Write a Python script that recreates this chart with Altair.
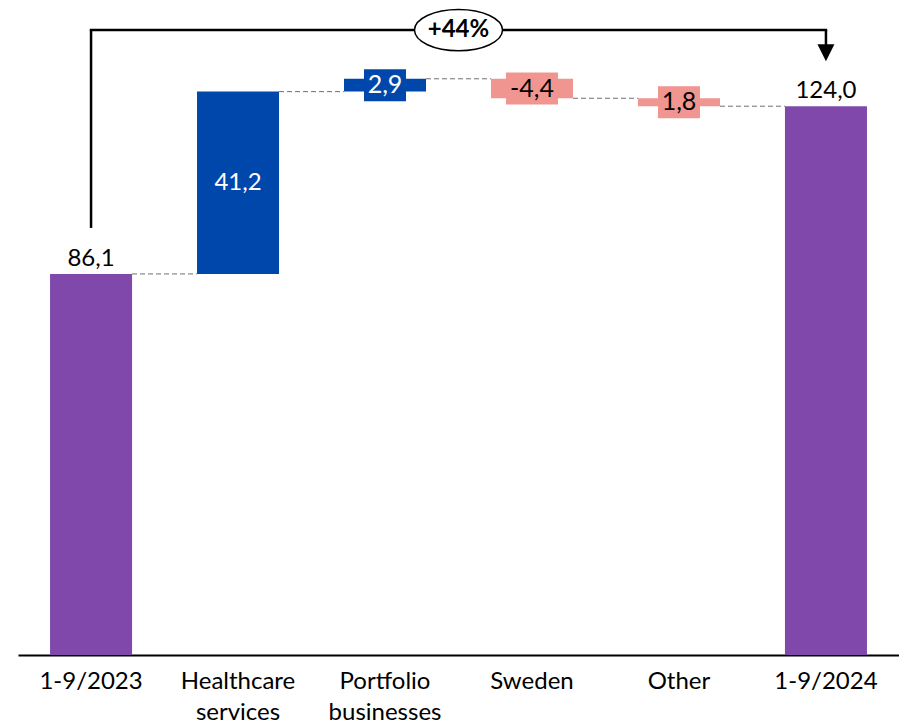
import altair as alt
import pandas as pd

# ---- data -------------------------------------------------------------
categories = ["1-9/2023", "Healthcare services", "Portfolio businesses",
              "Sweden", "Other", "1-9/2024"]
values = [86.1, 41.2, 2.9, -4.4, -1.8, 124.0]
kinds = ["total", "step", "step", "step", "step", "total"]
value_labels = ["86,1", "41,2", "2,9", "-4,4", "1,8", "124,0"]
label_styles = ["above", "inside", "box", "box", "box", "above"]

# ---- styling ----------------------------------------------------------
PURPLE = "#8048AA"
BLUE = "#0047AB"
PINK = "#F19591"
FONT = "Lato"

PLOT_W, PLOT_H = 881, 655
Y_MAX = 148.0

# bracket annotation levels (in value units)
BRACKET_Y = 141.2
BRACKET_LEFT_END = 96.5
ARROW_Y = 136.1

# ---- waterfall geometry -------------------------------------------------
rows = []
running = 0.0
for cat, v, k, lab, st in zip(categories, values, kinds, value_labels, label_styles):
    if k == "total":
        lo, hi = 0.0, v
        running = v
        color = PURPLE
    else:
        lo, hi = running, running + v
        running += v
        color = BLUE if v > 0 else PINK
    text_color = "white" if color == BLUE else "black"
    rows.append(dict(cat=cat, start=lo, end=hi, mid=(lo + hi) / 2,
                     top=max(lo, hi), color=color, label=lab, style=st,
                     text_color=text_color))
df = pd.DataFrame(rows)

conn = pd.DataFrame({
    "cat": categories[:-1],
    "next": categories[1:],
    "level": [r["end"] for r in rows[:-1]],
})

pct = values[-1] / values[0] - 1
pct_text = f"{pct:+.0%}"

bracket = pd.DataFrame({
    "from_cat": [categories[0]],
    "to_cat": [categories[-1]],
    "y_top": [BRACKET_Y],
    "y_left": [BRACKET_LEFT_END],
    "y_arrow": [ARROW_Y],
    "txt": [pct_text],
})

x_scale = alt.Scale(domain=categories, paddingInner=0.442, paddingOuter=0.218)
y_scale = alt.Scale(domain=[0, Y_MAX], nice=False, zero=False)

x_axis = alt.Axis(
    title=None, labelAngle=0, ticks=False, labelFont=FONT, labelFontSize=24,
    labelColor="black", domainColor="black", domainWidth=2, labelPadding=14,
    labelLineHeight=31, labelExpr="split(datum.label, ' ')", grid=False,
)


def xcat(field, **kw):
    return alt.X(f"{field}:N", sort=categories, scale=x_scale, axis=x_axis, **kw)


def yval(field):
    return alt.Y(f"{field}:Q", scale=y_scale, axis=None)


base = alt.Chart(df)

bars = base.mark_bar().encode(
    x=xcat("cat"),
    y=yval("start"),
    y2="end:Q",
    color=alt.Color("color:N", scale=None),
)

connectors = alt.Chart(conn).mark_rule(
    color="#6f6f6f", strokeDash=[5, 3], strokeWidth=1
).encode(
    x=xcat("cat", bandPosition=1),
    x2=alt.X2("next:N", bandPosition=0),
    y=yval("level"),
)

above_labels = base.transform_filter("datum.style == 'above'").mark_text(
    font=FONT, fontSize=24, baseline="alphabetic", dy=-8, color="black"
).encode(x=xcat("cat"), y=yval("top"), text="label:N")

inside_labels = base.transform_filter("datum.style == 'inside'").mark_text(
    font=FONT, fontSize=24, baseline="middle", color="white"
).encode(x=xcat("cat"), y=yval("mid"), text="label:N")

# small steps get a label plate in the bar colour
box_layers = []
for r in rows:
    if r["style"] != "box":
        continue
    w = 12 + 10 * len(r["label"])
    sub = pd.DataFrame([r])
    box_layers.append(
        alt.Chart(sub).mark_bar(width=w, yOffset=-16, y2Offset=16).encode(
            x=xcat("cat"),
            y=yval("mid"),
            y2="mid:Q",
            color=alt.Color("color:N", scale=None),
        )
    )

box_labels = base.transform_filter("datum.style == 'box'").mark_text(
    font=FONT, fontSize=25, baseline="middle"
).encode(
    x=xcat("cat"),
    y=yval("mid"),
    text="label:N",
    color=alt.Color("text_color:N", scale=None),
)

# ---- growth bracket -----------------------------------------------------
bchart = alt.Chart(bracket)
line_style = dict(color="black", strokeWidth=2.5)

left_leg = bchart.mark_rule(**line_style).encode(
    x=xcat("from_cat"), y=yval("y_left"), y2="y_top:Q",
)
top_bar = bchart.mark_rule(strokeCap="square", **line_style).encode(
    x=xcat("from_cat"), x2="to_cat:N", y=yval("y_top"),
)
right_leg = bchart.mark_rule(**line_style).encode(
    x=xcat("to_cat"), y=yval("y_top"), y2="y_arrow:Q",
)
arrow_head = bchart.mark_point(
    shape="M -1 -1 L 1 -1 L 0 1 Z", size=289, filled=True, color="black",
    opacity=1,
).encode(x=xcat("to_cat"), y=yval("y_arrow"))

k = 0.5523
ry = 0.47
ellipse_path = (
    f"M -1 0 C -1 {-ry*k:.4f} {-k} {-ry} 0 {-ry} "
    f"C {k} {-ry} 1 {-ry*k:.4f} 1 0 "
    f"C 1 {ry*k:.4f} {k} {ry} 0 {ry} "
    f"C {-k} {ry} -1 {ry*k:.4f} -1 0 Z"
)
ellipse = bchart.mark_point(
    shape=ellipse_path, size=88 ** 2, fill="white", stroke="black",
    strokeWidth=1.5, fillOpacity=1, opacity=1,
).encode(
    x=alt.value({"expr": "width/2"}),
    y=yval("y_top"),
)
ellipse_text = bchart.mark_text(
    font=FONT, fontSize=24, fontWeight="bold", baseline="middle", color="black"
).encode(
    x=alt.value({"expr": "width/2"}),
    y=yval("y_top"),
    text="txt:N",
)

chart = alt.layer(
    connectors, bars, *box_layers, above_labels, inside_labels, box_labels,
    left_leg, top_bar, right_leg, arrow_head, ellipse, ellipse_text,
).properties(
    width=PLOT_W, height=PLOT_H,
    background="white",
    autosize=alt.AutoSizeParams(type="none"),
    padding={"left": 18, "top": 0, "right": 0, "bottom": 70},
).configure_view(stroke=None)

chart.save("out.html", embed_options={"renderer": "svg", "actions": False})
